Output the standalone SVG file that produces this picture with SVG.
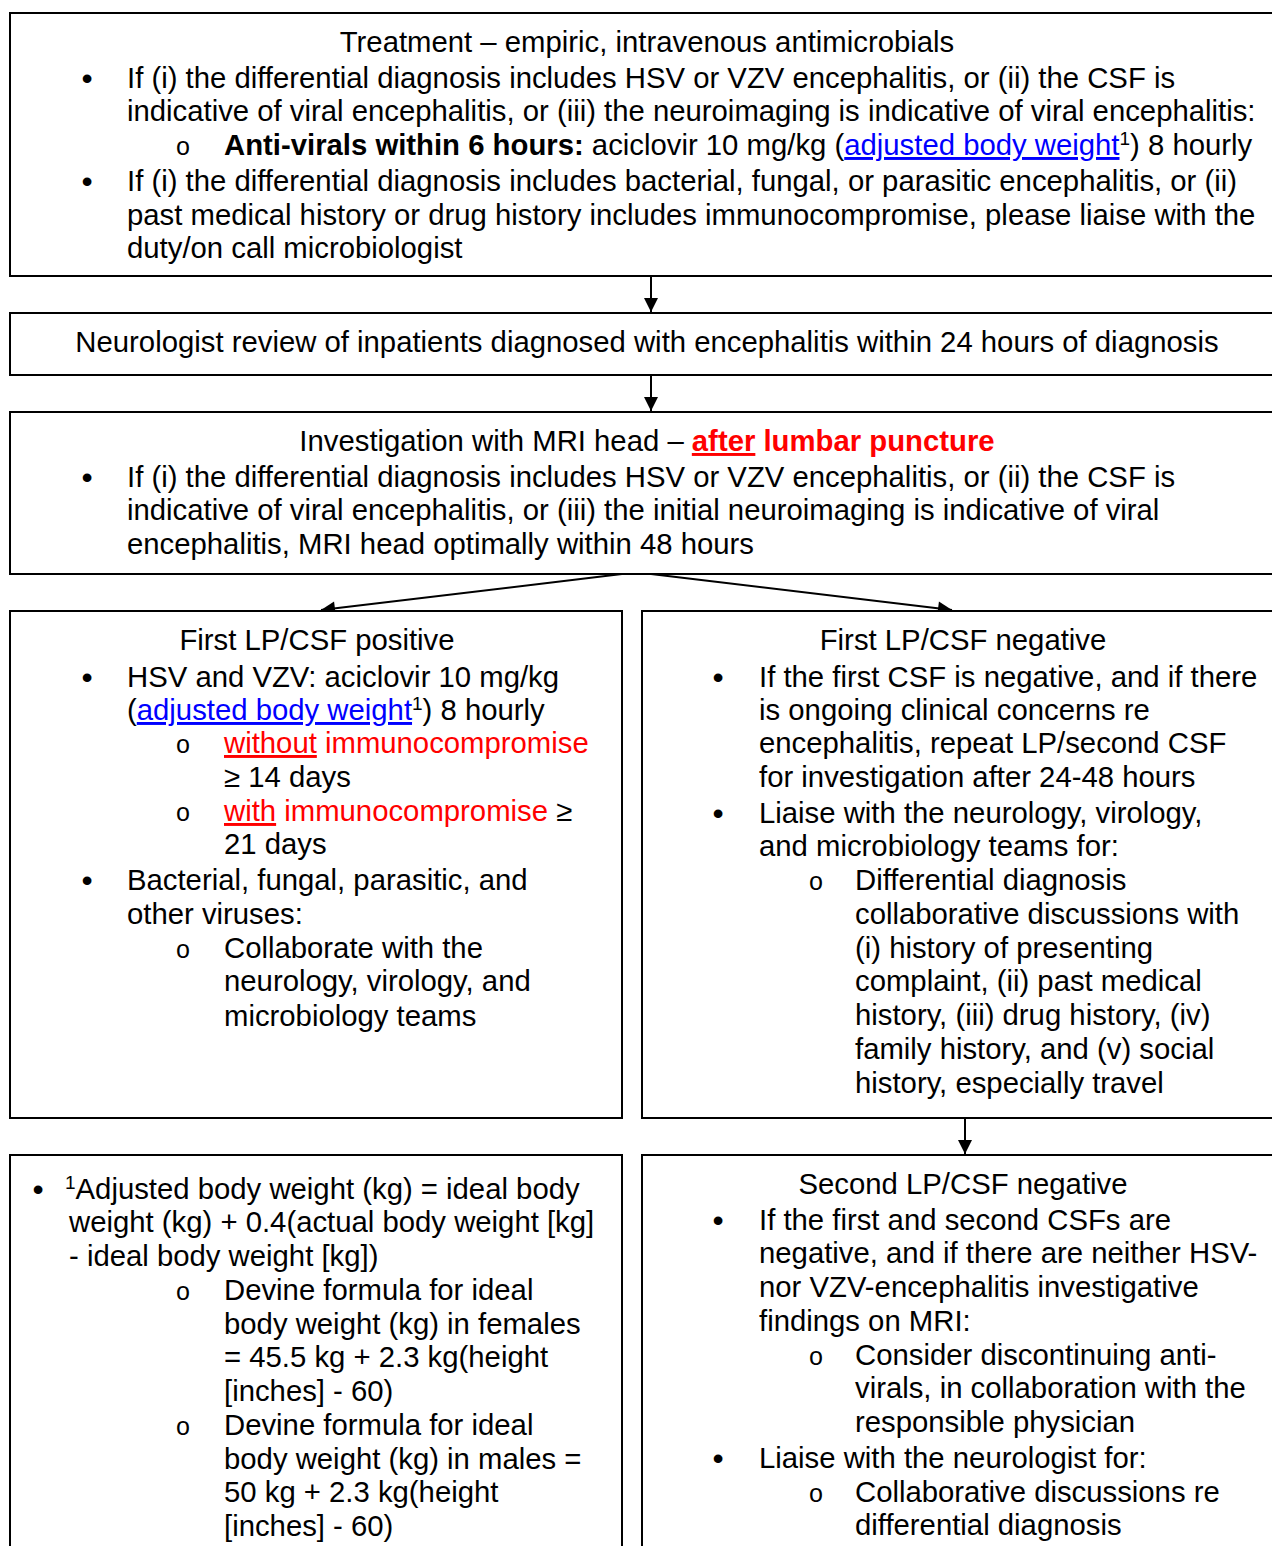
<svg xmlns="http://www.w3.org/2000/svg" width="1272" height="1546" viewBox="0 0 1272 1546">
<style>
text{font-family:"Liberation Sans",Arial,sans-serif;font-size:29.3px;fill:#000}
.c{text-anchor:middle}
.box{fill:#fff;stroke:#000;stroke-width:2}
.b{font-weight:bold}
.red{fill:#ff0000}
.u{text-decoration:underline}
.link{fill:#0000ff;text-decoration:underline}
.sup{font-size:19px}
.o{font-family:"Liberation Mono","Courier New",monospace;font-size:25px;text-anchor:middle}
.dot{text-anchor:middle;font-size:32px}
.conn{stroke:#000;stroke-width:2;fill:none;marker-end:url(#ah)}
</style>
<defs>
<marker id="ah" viewBox="0 0 10 10" refX="10" refY="5" markerWidth="8" markerHeight="7" markerUnits="strokeWidth" orient="auto">
<path d="M0,0 L10,5 L0,10 z" fill="#000"/>
</marker>
</defs>
<rect width="1272" height="1546" fill="#fff"/>

<g id="connectors">
<line class="conn" x1="651" y1="276" x2="651" y2="312"/>
<line class="conn" x1="651" y1="375" x2="651" y2="411"/>
<line class="conn" x1="622" y1="574" x2="321" y2="610"/>
<line class="conn" x1="651" y1="574" x2="952" y2="610"/>
<line class="conn" x1="965" y1="1118" x2="965" y2="1154"/>
</g>

<g id="treatment">
<rect class="box" x="10" y="13" width="1280" height="263"/>
<text class="c" x="647" y="52">Treatment – empiric, intravenous antimicrobials</text>
<text class="dot" x="87" y="89">•</text>
<text x="127" y="88">If (i) the differential diagnosis includes HSV or VZV encephalitis, or (ii) the CSF is</text>
<text x="127" y="121">indicative of viral encephalitis, or (iii) the neuroimaging is indicative of viral encephalitis:</text>
<text class="o" x="183" y="155">o</text>
<text x="224" y="155"><tspan class="b">Anti-virals within 6 hours:</tspan> aciclovir 10 mg/kg (<tspan class="link">adjusted body weight</tspan><tspan class="sup" dy="-10">1</tspan><tspan dy="10">) 8 hourly</tspan></text>
<text class="dot" x="87" y="192">•</text>
<text x="127" y="191">If (i) the differential diagnosis includes bacterial, fungal, or parasitic encephalitis, or (ii)</text>
<text x="127" y="225">past medical history or drug history includes immunocompromise, please liaise with the</text>
<text x="127" y="258">duty/on call microbiologist</text>
</g>

<g id="neuro-review">
<rect class="box" x="10" y="313" width="1280" height="62"/>
<text class="c" x="647" y="352">Neurologist review of inpatients diagnosed with encephalitis within 24 hours of diagnosis</text>
</g>

<g id="mri">
<rect class="box" x="10" y="412" width="1280" height="162"/>
<text class="c" x="647" y="451">Investigation with MRI head – <tspan class="b red u">after</tspan><tspan class="b red"> lumbar puncture</tspan></text>
<text class="dot" x="87" y="488">•</text>
<text x="127" y="487">If (i) the differential diagnosis includes HSV or VZV encephalitis, or (ii) the CSF is</text>
<text x="127" y="520">indicative of viral encephalitis, or (iii) the initial neuroimaging is indicative of viral</text>
<text x="127" y="554">encephalitis, MRI head optimally within 48 hours</text>
</g>

<g id="csf-positive">
<rect class="box" x="10" y="611" width="612" height="507"/>
<text class="c" x="317" y="650">First LP/CSF positive</text>
<text class="dot" x="87" y="688">•</text>
<text x="127" y="687">HSV and VZV: aciclovir 10 mg/kg</text>
<text x="127" y="720">(<tspan class="link">adjusted body weight</tspan><tspan class="sup" dy="-10">1</tspan><tspan dy="10">) 8 hourly</tspan></text>
<text class="o" x="183" y="753">o</text>
<text x="224" y="753"><tspan class="red u">without</tspan><tspan class="red"> immunocompromise</tspan></text>
<text x="224" y="787">≥ 14 days</text>
<text class="o" x="183" y="821">o</text>
<text x="224" y="821"><tspan class="red u">with</tspan><tspan class="red"> immunocompromise</tspan> ≥</text>
<text x="224" y="854">21 days</text>
<text class="dot" x="87" y="891">•</text>
<text x="127" y="890">Bacterial, fungal, parasitic, and</text>
<text x="127" y="924">other viruses:</text>
<text class="o" x="183" y="958">o</text>
<text x="224" y="958">Collaborate with the</text>
<text x="224" y="991">neurology, virology, and</text>
<text x="224" y="1026">microbiology teams</text>
</g>

<g id="csf-negative">
<rect class="box" x="642" y="611" width="660" height="507"/>
<text class="c" x="963" y="650">First LP/CSF negative</text>
<text class="dot" x="718" y="688">•</text>
<text x="759" y="687">If the first CSF is negative, and if there</text>
<text x="759" y="720">is ongoing clinical concerns re</text>
<text x="759" y="753">encephalitis, repeat LP/second CSF</text>
<text x="759" y="787">for investigation after 24-48 hours</text>
<text class="dot" x="718" y="824">•</text>
<text x="759" y="823">Liaise with the neurology, virology,</text>
<text x="759" y="856">and microbiology teams for:</text>
<text class="o" x="816" y="890">o</text>
<text x="855" y="890">Differential diagnosis</text>
<text x="855" y="924">collaborative discussions with</text>
<text x="855" y="958">(i) history of presenting</text>
<text x="855" y="991">complaint, (ii) past medical</text>
<text x="855" y="1025">history, (iii) drug history, (iv)</text>
<text x="855" y="1059">family history, and (v) social</text>
<text x="855" y="1093">history, especially travel</text>
</g>

<g id="adjusted-weight">
<rect class="box" x="10" y="1155" width="612" height="420"/>
<text class="dot" x="38" y="1200">•</text>
<text x="65" y="1199"><tspan class="sup" dy="-10">1</tspan><tspan dy="10">Adjusted body weight (kg) = ideal body</tspan></text>
<text x="69" y="1232">weight (kg) + 0.4(actual body weight [kg]</text>
<text x="69" y="1266">- ideal body weight [kg])</text>
<text class="o" x="183" y="1300">o</text>
<text x="224" y="1300">Devine formula for ideal</text>
<text x="224" y="1334">body weight (kg) in females</text>
<text x="224" y="1367">= 45.5 kg + 2.3 kg(height</text>
<text x="224" y="1401">[inches] - 60)</text>
<text class="o" x="183" y="1435">o</text>
<text x="224" y="1435">Devine formula for ideal</text>
<text x="224" y="1469">body weight (kg) in males =</text>
<text x="224" y="1502">50 kg + 2.3 kg(height</text>
<text x="224" y="1536">[inches] - 60)</text>
</g>

<g id="second-csf-negative">
<rect class="box" x="642" y="1155" width="660" height="420"/>
<text class="c" x="963" y="1194">Second LP/CSF negative</text>
<text class="dot" x="718" y="1231">•</text>
<text x="759" y="1230">If the first and second CSFs are</text>
<text x="759" y="1263">negative, and if there are neither HSV-</text>
<text x="759" y="1297">nor VZV-encephalitis investigative</text>
<text x="759" y="1331">findings on MRI:</text>
<text class="o" x="816" y="1365">o</text>
<text x="855" y="1365">Consider discontinuing anti-</text>
<text x="855" y="1398">virals, in collaboration with the</text>
<text x="855" y="1432">responsible physician</text>
<text class="dot" x="718" y="1469">•</text>
<text x="759" y="1468">Liaise with the neurologist for:</text>
<text class="o" x="816" y="1502">o</text>
<text x="855" y="1502">Collaborative discussions re</text>
<text x="855" y="1535">differential diagnosis</text>
</g>
</svg>
